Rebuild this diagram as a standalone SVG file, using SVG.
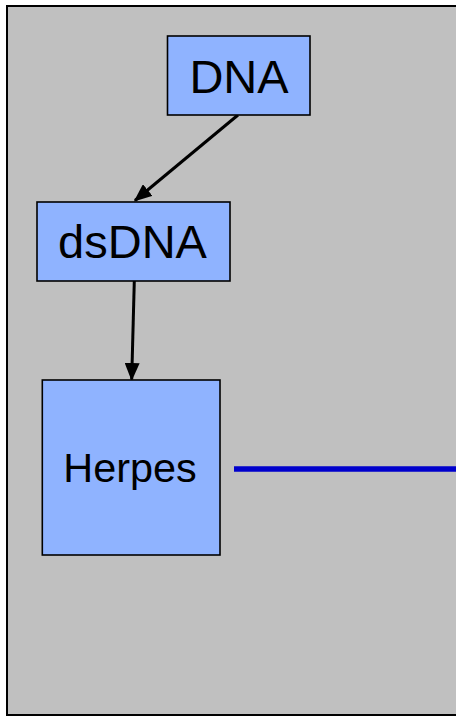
<svg xmlns="http://www.w3.org/2000/svg" width="456" height="717" viewBox="0 0 456 717">
<style>
.node rect{fill:#8fb3ff;stroke:#000;stroke-width:1.6}
.node text{font-family:"Liberation Sans",Arial,sans-serif;fill:#000;text-anchor:middle}
.conn{stroke:#000;stroke-width:3;fill:none}
</style>
<defs>
<marker id="ah" markerWidth="6" markerHeight="5" refX="5.5" refY="2.5" orient="auto" markerUnits="strokeWidth">
<path d="M0,0 L6,2.5 L0,5 Z" fill="#000"/>
</marker>
</defs>
<rect x="7" y="6" width="460" height="709" fill="#c0c0c0" stroke="#000" stroke-width="2"/>
<g id="connectors">
<line class="conn" x1="238" y1="115" x2="135" y2="200.5" marker-end="url(#ah)"/>
<line class="conn" x1="134.3" y1="281" x2="131.7" y2="379.5" marker-end="url(#ah)"/>
<line x1="234" y1="469" x2="460" y2="469" stroke="#0000cc" stroke-width="5.5"/>
</g>
<g id="dna" class="node">
<rect x="167.5" y="36" width="142.5" height="79"/>
<text x="239" y="92.5" font-size="47">DNA</text>
</g>
<g id="dsdna" class="node">
<rect x="37" y="202" width="193" height="79"/>
<text x="132.5" y="258.3" font-size="47">dsDNA</text>
</g>
<g id="herpes" class="node">
<rect x="42.3" y="380" width="177.7" height="175"/>
<text x="130" y="482.3" font-size="41.4">Herpes</text>
</g>
</svg>
